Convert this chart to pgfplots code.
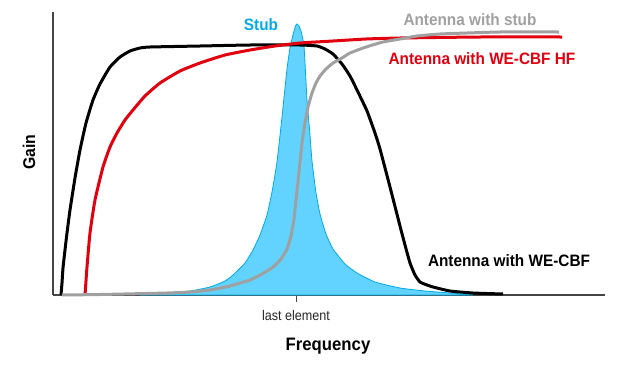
\documentclass[border=0pt]{standalone}
\usepackage{pgfplots}
\pgfplotsset{compat=1.18}
\usepackage{fontspec}
\setmainfont{Liberation Sans}
\newfontfamily\bcond[FakeStretch=0.93]{Liberation Sans}
\newfontfamily\rcond[FakeStretch=0.90]{Liberation Sans}
\definecolor{stubline}{RGB}{0,170,235}
\definecolor{stubfill}{RGB}{97,211,254}
\definecolor{cred}{RGB}{226,0,15}
\definecolor{cgray}{RGB}{160,160,160}
\definecolor{axgray}{RGB}{70,70,70}
\begin{document}
\begin{tikzpicture}
\begin{axis}[
  scale only axis, width=552pt, height=283pt,
  xmin=53, xmax=605, ymin=0, ymax=283,
  axis x line=bottom, axis y line=left,
  axis line style={-, draw=axgray, line width=1.3pt},
  xtick={296}, xticklabels={}, ytick=\empty,
  xtick align=outside, major tick length=7pt,
  tick style={draw=axgray, line width=0.8pt},
  clip=false,
]
\path (axis cs:0,-73) rectangle (axis cs:619,295);
% Stub
\addplot[fill=stubfill, draw=stubline, line width=0.8pt, smooth, tension=0.3] coordinates {
(140,0)(167,2)(190,4)(210,8)(225,14)(233,20)(245,32)(253,45)(260,60)(267,80)(272,103)(277,133)(282,178)(287,226)(290,247)(292,256)(294,264)(296,270)(297,271)(299,269)(301,264)(303,255)(304,249)(305,232)(307,195)(310,160)(312,134)(316,102)(320,81)(326,61)(333,46)(345,31)(357,22)(375,13)(400,7)(425,4)(450,2)(473,0)} \closedcycle;
% Antenna with WE-CBF
\addplot[black, line width=3pt, smooth, tension=0.3] coordinates {
(61,0)(62,12)(63,27)(65,45)(67,62)(70,85)(75,117)(80,145)(86,172)(93,195)(100,211)(110,228)(120,238)(130,244)(140,247)(150,248)(200,249)(250,250)(300,250)(317,249)(325,246)(333,241)(342,231)(350,219)(358,203)(367,184)(375,162)(380,146)(390,108)(400,69)(405,50)(410,32)(415,20)(420,13)(427,10)(433,8)(450,4)(473,2)(503,1)};
% Antenna with WE-CBF HF
\addplot[cred, line width=3pt, smooth, tension=0.3] coordinates {
(85,0)(86,14)(87,28)(90,62)(95,95)(103,128)(110,148)(117,162)(125,175)(133,185)(145,199)(160,212)(180,224)(200,232)(225,240)(250,245)(275,249)(300,252)(333,254)(366,256)(400,257)(480,258)(562,258)};
% Antenna with stub
\addplot[cgray, line width=3pt, smooth, tension=0.3] coordinates {
(62,0)(100,0.5)(167,2)(190,3)(210,5)(230,9)(250,15)(262,21)(273,28)(281,36)(287,46)(291,59)(294,76)(296,95)(298,113)(300,133)(302,152)(305,172)(308,188)(312,202)(316,212)(320,219)(326,226)(333,232)(342,237)(350,242)(366,248)(383,253)(400,256)(417,259)(440,261)(467,262)(500,263)(559,263)};
% labels
\node[anchor=base, text=stubline, font=\bcond\bfseries\fontsize{16.5}{19}\selectfont] at (axis cs:261,265) {Stub};
\node[anchor=base, text=cgray, font=\bcond\bfseries\fontsize{16.5}{19}\selectfont] at (axis cs:470,270) {Antenna with stub};
\node[anchor=base, text=cred, font=\bcond\bfseries\fontsize{16.5}{19}\selectfont] at (axis cs:482,231) {Antenna with WE-CBF HF};
\node[anchor=base, text=black, font=\bcond\bfseries\fontsize{16.5}{19}\selectfont] at (axis cs:509,29) {Antenna with WE-CBF};
\node[anchor=base, text=black, font=\bcond\bfseries\fontsize{18}{21}\selectfont] at (axis cs:328,-55) {Frequency};
\node[anchor=center, rotate=90, text=black, font=\bcond\bfseries\fontsize{17}{20}\selectfont] at (axis cs:29,143) {Gain};
\node[anchor=base, text=black!85, font=\rcond\fontsize{14}{16}\selectfont] at (axis cs:296,-25) {last element};
\end{axis}
\end{tikzpicture}
\end{document}
